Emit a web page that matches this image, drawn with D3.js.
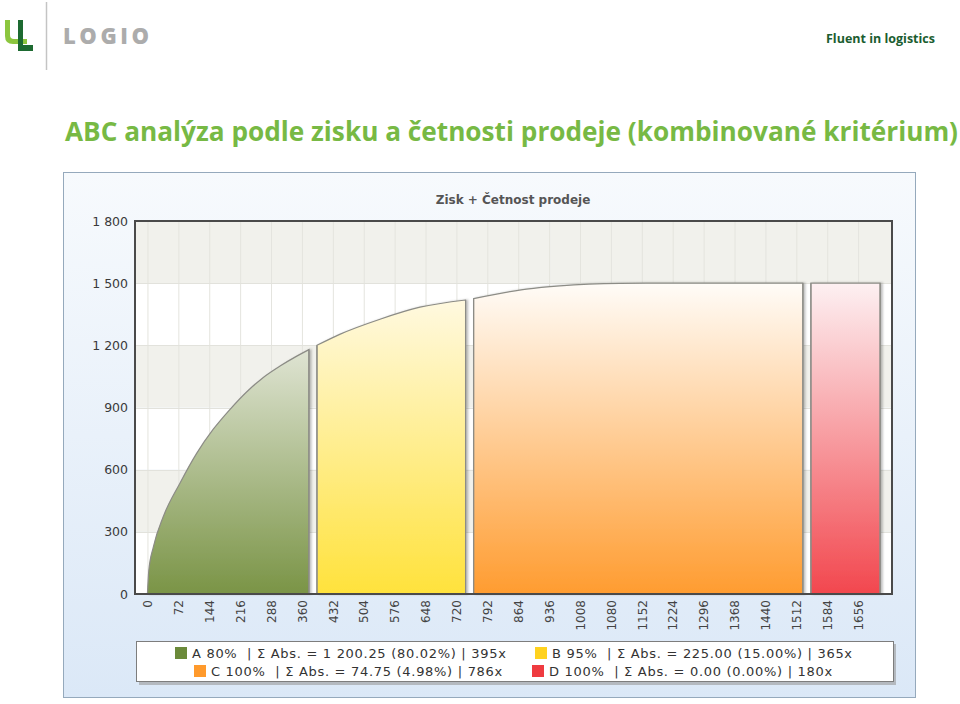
<!DOCTYPE html>
<html>
<head>
<meta charset="utf-8">
<script src="https://cdn.jsdelivr.net/npm/d3@7"></script>
<style>
  html, body { margin: 0; padding: 0; background: #ffffff; }
  svg { display: block; }
</style>
</head>
<body>
<svg id="chart" width="960" height="704"></svg>
<script>
// ---------------- DATA ----------------
const pageTitle = "ABC analýza podle zisku a četnosti prodeje (kombinované kritérium)";
const chartTitle = "Zisk + Četnost prodeje";
const brandName = "LOGIO";
const brandSlogan = "Fluent in logistics";

// ABC classes: name, number of items (x)
const classNames = ["A", "B", "C", "D"];
const classCounts = [395, 365, 786, 180];
const classColors = ["#6b8a3a", "#ffd21f", "#ff9a2c", "#ef3b40"];
const gradTop = ["#dfe4d3", "#fff9e0", "#fffcf8", "#fdf0f2"];
const gradBottom = ["#7a9446", "#ffe23c", "#ff9c30", "#f2474e"];
const legendLabels = [
  "A 80%  | Σ Abs. = 1 200.25 (80.02%) | 395x",
  "B 95%  | Σ Abs. = 225.00 (15.00%) | 365x",
  "C 100%  | Σ Abs. = 74.75 (4.98%) | 786x",
  "D 100%  | Σ Abs. = 0.00 (0.00%) | 180x"
];

// cumulative profit curve (items sorted by criterion)
const curveCount  = [0, 3, 14, 37, 76, 115, 153, 192, 231, 270, 309, 348, 395, 448, 542, 635, 760, 883, 961, 1101, 1200, 1546, 1726];
const curveProfit = [0, 110, 229, 374, 536, 680, 794, 890, 975, 1045, 1100, 1148, 1200, 1253, 1326, 1384, 1425, 1471, 1487, 1499, 1500, 1500, 1500];

const yTicks = [0, 300, 600, 900, 1200, 1500, 1800];
const xTicks = [0, 72, 144, 216, 288, 360, 432, 504, 576, 648, 720, 792, 864, 936, 1008, 1080, 1152, 1224, 1296, 1368, 1440, 1512, 1584, 1656];

// ---------------- LAYOUT ----------------
const svg = d3.select("#chart");
const defs = svg.append("defs");
const plot = { left: 135, top: 221, right: 892, bottom: 594 };

const x = d3.scaleLinear().domain([-29, 1735]).range([plot.left, plot.right]);
const y = d3.scaleLinear().domain([0, 1800]).range([plot.bottom, plot.top]);
const fmt = d3.formatLocale({ decimal: ",", thousands: "\u00a0", grouping: [3], currency: ["", ""] }).format(",d");

// ---------------- HEADER ----------------
svg.append("path")
  .attr("d", "M5,20 H10 V35 Q10,39 14,39 H27 V44 H13 Q5,44 5,36 Z")
  .attr("fill", "#8cc63e");
svg.append("path")
  .attr("d", "M18,20 H23 V45 H33 V51 H18 Z")
  .attr("fill", "#1d6a31");
svg.append("line").attr("x1", 46.5).attr("x2", 46.5).attr("y1", 2).attr("y2", 70)
  .attr("stroke", "#c4c4c4").attr("stroke-width", 1.5);
svg.append("text").attr("x", 63).attr("y", 44).text(brandName)
  .attr("font-family", "Open Sans, sans-serif").attr("font-weight", 800)
  .attr("font-size", 22).attr("fill", "#acacac")
  .attr("textLength", 86).attr("lengthAdjust", "spacing");
svg.append("text").attr("x", 826).attr("y", 43).text(brandSlogan)
  .attr("font-family", "Open Sans, sans-serif").attr("font-weight", 700)
  .attr("font-size", 13).attr("fill", "#1b5d30")
  .attr("textLength", 109).attr("lengthAdjust", "spacingAndGlyphs");

svg.append("text").attr("x", 65).attr("y", 141).text(pageTitle)
  .attr("font-family", "Open Sans, sans-serif").attr("font-weight", 700)
  .attr("font-size", 26).attr("fill", "#77b944")
  .attr("textLength", 893).attr("lengthAdjust", "spacingAndGlyphs");

// ---------------- PANEL ----------------
const pg = defs.append("linearGradient").attr("id", "panelGrad").attr("x1", 0).attr("x2", 0).attr("y1", 0).attr("y2", 1);
pg.append("stop").attr("offset", "0%").attr("stop-color", "#f7fafd");
pg.append("stop").attr("offset", "100%").attr("stop-color", "#dbe8f7");
svg.append("rect").attr("x", 63.5).attr("y", 172.5).attr("width", 852).attr("height", 525)
  .attr("fill", "url(#panelGrad)").attr("stroke", "#95a9bc").attr("stroke-width", 1);

svg.append("text").attr("x", 513).attr("y", 204).attr("text-anchor", "middle").text(chartTitle)
  .attr("font-family", "DejaVu Sans, Verdana, sans-serif").attr("font-weight", "bold")
  .attr("font-size", 12).attr("fill", "#555");

// plot background bands
const bands = yTicks.slice(0, -1).map((v, i) => ({ v0: v, v1: yTicks[i + 1], i }));
svg.append("g").selectAll("rect").data(bands).join("rect")
  .attr("x", plot.left).attr("width", plot.right - plot.left)
  .attr("y", d => y(d.v1)).attr("height", d => y(d.v0) - y(d.v1))
  .attr("fill", d => d.i % 2 === 0 ? "#ffffff" : "#f1f1ec");

// grid lines
svg.append("g").selectAll("line").data(xTicks).join("line")
  .attr("x1", d => x(d) + 0.5).attr("x2", d => x(d) + 0.5)
  .attr("y1", plot.top).attr("y2", plot.bottom)
  .attr("stroke", "#e4e4de").attr("stroke-width", 1);
svg.append("g").selectAll("line").data(yTicks).join("line")
  .attr("x1", plot.left).attr("x2", plot.right)
  .attr("y1", d => Math.round(y(d)) + 0.5).attr("y2", d => Math.round(y(d)) + 0.5)
  .attr("stroke", "#e2e2dc").attr("stroke-width", 1);

// ---------------- AREAS ----------------
const sh = defs.append("filter").attr("id", "shadow").attr("x", "-5%").attr("y", "-5%").attr("width", "115%").attr("height", "115%");
sh.append("feDropShadow").attr("dx", 2).attr("dy", 0).attr("stdDeviation", 1.2)
  .attr("flood-color", "#000").attr("flood-opacity", 0.25);

classNames.forEach((c, i) => {
  const g = defs.append("linearGradient").attr("id", "grad" + c).attr("x1", 0).attr("x2", 0).attr("y1", 0).attr("y2", 1);
  g.append("stop").attr("offset", "0%").attr("stop-color", gradTop[i]);
  g.append("stop").attr("offset", "100%").attr("stop-color", gradBottom[i]);
});

const curve = curveCount.map((c, i) => ({ c, p: curveProfit[i] }));
const bis = d3.bisector(d => d.c).left;
function profitAt(c) {
  const j = Math.max(1, Math.min(curve.length - 1, bis(curve, c)));
  const a = curve[j - 1], b = curve[j];
  return a.p + (b.p - a.p) * (c - a.c) / (b.c - a.c);
}

const gap = 8;
const starts = d3.cumsum([0, ...classCounts.slice(0, -1)]);
const area = d3.area().x(d => x(d.c)).y0(y(0)).y1(d => y(d.p)).curve(d3.curveMonotoneX);
const areaG = svg.append("g");
classNames.forEach((c, i) => {
  const s = starts[i];
  const e = x.invert(x(s + classCounts[i]) - gap);
  const pts = [{ c: s, p: profitAt(s) }]
    .concat(curve.filter(d => d.c > s && d.c < e))
    .concat([{ c: e, p: profitAt(e) }]);
  areaG.append("path").datum(pts)
    .attr("d", area)
    .attr("fill", "url(#grad" + c + ")")
    .attr("stroke", "#8c8c86").attr("stroke-width", 1.2)
    .attr("filter", "url(#shadow)");
  areaG.append("line")
    .attr("x1", x(s)).attr("x2", x(s)).attr("y1", y(pts[0].p)).attr("y2", y(0))
    .attr("stroke", "#8c8c86").attr("stroke-width", 1.2);
  areaG.append("line")
    .attr("x1", x(e)).attr("x2", x(e)).attr("y1", y(pts[pts.length - 1].p)).attr("y2", y(0))
    .attr("stroke", "#8c8c86").attr("stroke-width", 1.2);
});

// plot frame
svg.append("rect").attr("x", plot.left).attr("y", plot.top)
  .attr("width", plot.right - plot.left).attr("height", plot.bottom - plot.top)
  .attr("fill", "none").attr("stroke", "#4a4a4a").attr("stroke-width", 2);

// ---------------- AXES ----------------
const yAxis = d3.axisLeft(y).tickValues(yTicks).tickFormat(fmt).tickSize(0).tickPadding(7);
const yg = svg.append("g").attr("transform", `translate(${plot.left},0)`).call(yAxis);
yg.select(".domain").remove();
yg.selectAll("text").attr("font-family", "DejaVu Sans, Verdana, sans-serif")
  .attr("font-size", 12.5).attr("fill", "#3a3a3a");

const xAxis = d3.axisBottom(x).tickValues(xTicks).tickFormat(d => d).tickSize(0);
const xg = svg.append("g").attr("transform", `translate(0,${plot.bottom})`).call(xAxis);
xg.select(".domain").remove();
xg.selectAll("text")
  .attr("font-family", "DejaVu Sans, Verdana, sans-serif").attr("font-size", 12).attr("fill", "#444")
  .attr("transform", "rotate(-90)").attr("text-anchor", "end")
  .attr("x", -6).attr("y", 0).attr("dy", "0.35em");

// ---------------- LEGEND ----------------
svg.append("rect").attr("x", 139).attr("y", 644).attr("width", 757).attr("height", 41)
  .attr("fill", "#9a9a9a").attr("opacity", 0.6);
svg.append("rect").attr("x", 136.5).attr("y", 641.5).attr("width", 757).attr("height", 40)
  .attr("fill", "#ffffff").attr("stroke", "#7d7d7d").attr("stroke-width", 1);

const legendPos = [
  { sx: 175, y: 653 }, { sx: 535, y: 653 },
  { sx: 194, y: 671 }, { sx: 532, y: 671 }
];
const legItems = svg.append("g").selectAll("g").data(classNames).join("g")
  .attr("transform", (d, i) => `translate(${legendPos[i].sx},${legendPos[i].y})`);
legItems.append("rect").attr("x", 0).attr("y", -6).attr("width", 12).attr("height", 12)
  .attr("fill", (d, i) => classColors[i]);
legItems.append("text").attr("x", 17).attr("y", 0).attr("dy", "0.36em")
  .attr("xml:space", "preserve").style("white-space", "pre")
  .attr("font-family", "DejaVu Sans, Verdana, sans-serif").attr("font-size", 13)
  .attr("letter-spacing", 0.7).attr("fill", "#333")
  .text((d, i) => legendLabels[i]);
</script>
</body>
</html>
